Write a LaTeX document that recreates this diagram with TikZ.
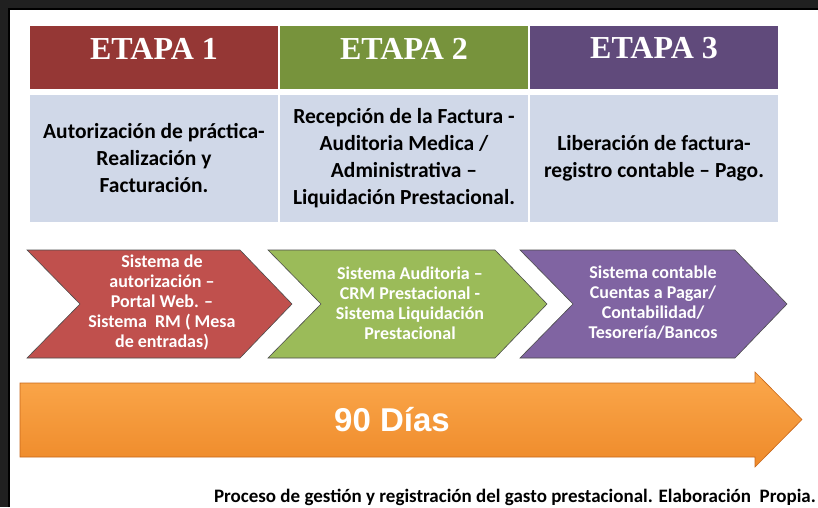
\documentclass[tikz,border=0pt]{standalone}
\usepackage{fontspec}
\setmainfont{Carlito}
\newfontfamily\etapafont{Liberation Serif}
\newfontfamily\diasfont{Liberation Sans}
\usetikzlibrary{positioning}

\definecolor{headred}{HTML}{953735}
\definecolor{headgreen}{HTML}{77933C}
\definecolor{headpurple}{HTML}{604A7B}
\definecolor{cellblue}{HTML}{D0D8E8}
\definecolor{chevred}{HTML}{C0504D}
\definecolor{chevgreen}{HTML}{9BBB59}
\definecolor{chevpurple}{HTML}{8064A2}
\definecolor{orangetop}{HTML}{FBA84C}
\definecolor{orangebot}{HTML}{EE8A2A}
\definecolor{orangeedge}{HTML}{C8671A}
\definecolor{framegray}{HTML}{202020}

\begin{document}
\begin{tikzpicture}[x=1pt,y=-1pt,
    headcell/.style={rectangle,inner sep=0pt,minimum width=248pt,minimum height=63pt},
    headtxt/.style={inner sep=0pt,text=white,font=\etapafont\bfseries\fontsize{32}{32}\selectfont},
    bodycell/.style={rectangle,fill=cellblue,inner sep=0pt,minimum width=248pt,minimum height=127pt},
    bodytxt/.style={align=center,inner sep=0pt,font=\bfseries\fontsize{21.5}{27}\selectfont},
    chevtxt/.style={align=center,inner sep=0pt,text=white,font=\bfseries\fontsize{18}{20}\selectfont},
    chevline/.style={draw=black!70,line width=0.6pt,line join=miter}]
    \useasboundingbox (0,0) rectangle (818,507);
    \fill[white] (0,0) rectangle (818,507);

    % Frame
    \fill[framegray] (0,0) rectangle (818,8);
    \fill[framegray] (0,0) rectangle (8,507);
    \draw[black,line width=1.5pt] (8.75,507) -- (8.75,8.75) -- (818,8.75);

    % Stage headers
    \node[headcell,fill=headred]    (etapa1) at (154,57.5) {};
    \node[headcell,fill=headgreen]  (etapa2) at (404,57.5) {};
    \node[headcell,fill=headpurple] (etapa3) at (654,57.5) {};
    \node[headtxt] (etapa1txt) at ([yshift=9pt]etapa1.center) {ETAPA 1};
    \node[headtxt] (etapa2txt) at ([yshift=9pt]etapa2.center) {ETAPA 2};
    \node[headtxt] (etapa3txt) at ([yshift=9pt]etapa3.center) {ETAPA 3};

    % Stage descriptions
    \node[bodycell] (desc1) at (154,158.5) {};
    \node[bodycell] (desc2) at (404,158.5) {};
    \node[bodycell] (desc3) at (654,158.5) {};
    \node[bodytxt] (desc1txt) at (desc1.center) {Autorización de práctica-\\Realización y\\Facturación.};
    \node[bodytxt] (desc2txt) at (desc2.center) {Recepción de la Factura -\\Auditoria Medica /\\Administrativa –\\Liquidación Prestacional.};
    \node[bodytxt] (desc3txt) at (desc3.center) {Liberación de factura-\\registro contable – Pago.};

    % Systems (chevrons)
    \filldraw[chevline,fill=chevred]    (27,250) -- (240,250) -- (292,304) -- (240,358) -- (27,358) -- (80,304) -- cycle;
    \filldraw[chevline,fill=chevgreen]  (268,250) -- (495,250) -- (547,304) -- (495,358) -- (268,358) -- (321,304) -- cycle;
    \filldraw[chevline,fill=chevpurple] (520,250) -- (735,250) -- (787,304) -- (735,358) -- (520,358) -- (573,304) -- cycle;
    \node[chevtxt] (sys1) at (162,303) {Sistema de\\autorización –\\Portal Web. –\\Sistema~ RM ( Mesa\\de entradas)};
    \node[chevtxt] (sys2) at (410,303) {Sistema Auditoria –\\CRM Prestacional -\\Sistema Liquidación\\Prestacional};
    \node[chevtxt] (sys3) at (653,303) {Sistema contable\\Cuentas a Pagar/\\Contabilidad/\\Tesorería/Bancos};

    % Time arrow
    \shade[top color=orangetop,bottom color=orangebot,draw=orangeedge,line width=0.6pt]
      (20,383) -- (755,383) -- (755,372) -- (802,419.5) -- (755,467) -- (755,457) -- (20,457) -- cycle;
    \node[text=white,inner sep=0pt,font=\diasfont\bfseries\fontsize{33}{33}\selectfont] (dias) at (392,419.5) {90 Días};

    % Caption
    \node[anchor=base east,inner sep=0pt,font=\bfseries\fontsize{19}{20}\selectfont] (caption) at (816,502)
      {Proceso de gestión y registración del gasto prestacional. Elaboración~ Propia.};
  \end{tikzpicture}
\end{document}
